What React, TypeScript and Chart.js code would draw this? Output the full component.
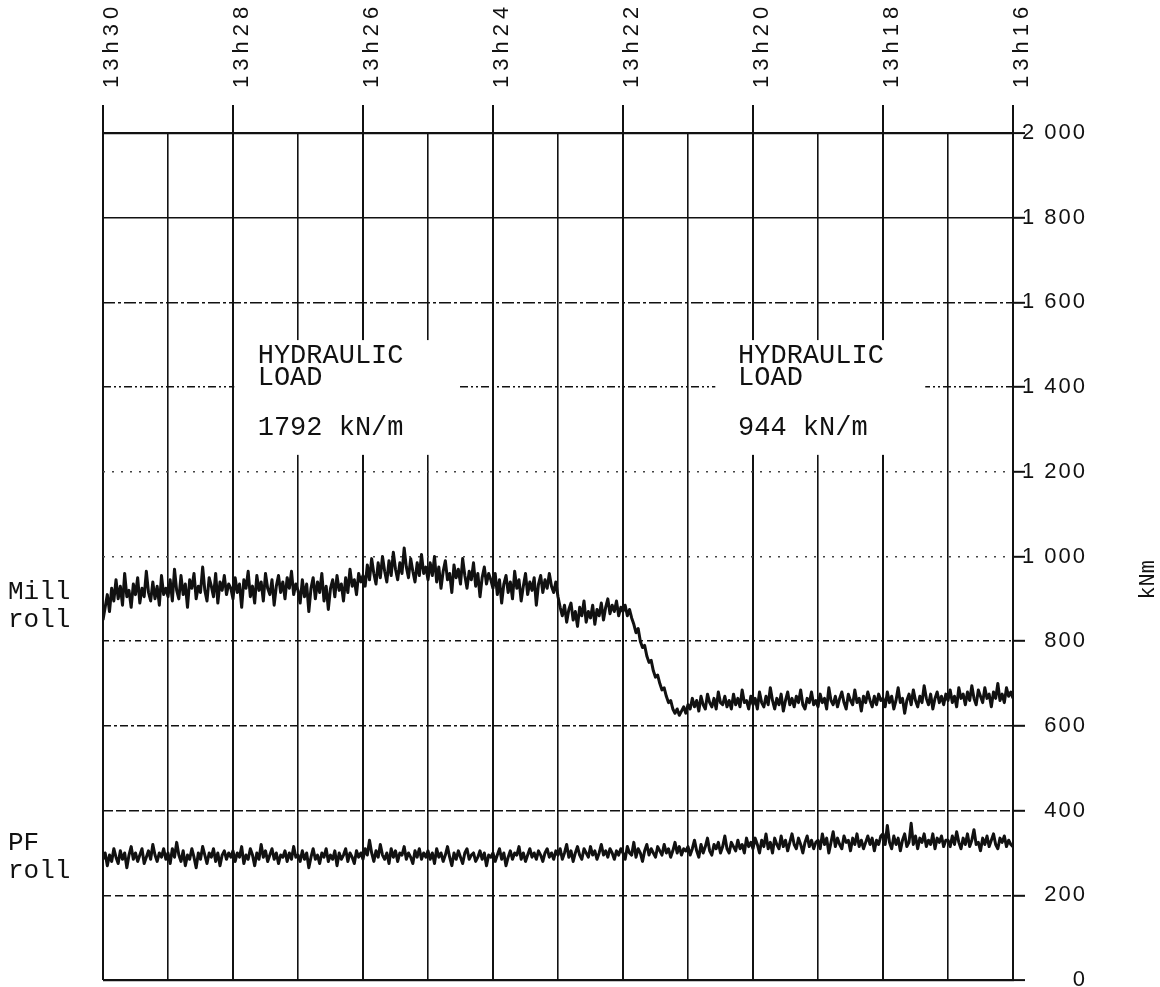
import React, { useEffect, useRef } from "react";
import { Chart, registerables } from "chart.js";

Chart.register(...registerables);

// ---- time axis (minutes past 13h00, chart runs from 13h30 on the left to 13h16 on the right)
const X_MIN_MINUTE = 16;
const X_MAX_MINUTE = 30;
const X_MAJOR_MINUTES = [30, 28, 26, 24, 22, 20, 18, 16];
const X_TICK_LABELS = ["13h30", "13h28", "13h26", "13h24", "13h22", "13h20", "13h18", "13h16"];

// ---- value axis (kNm)
const Y_TICK_VALUES = [0, 200, 400, 600, 800, 1000, 1200, 1400, 1600, 1800, 2000];
const Y_TICK_LABELS = ["0", "200", "400", "600", "800", "1 000", "1 200", "1 400", "1 600", "1 800", "2 000"];
const Y_UNIT = "kNm";

// ---- recorder samples: one sample every 2 s starting at 13h30
const START_MINUTE = 30;
const SAMPLES_PER_MINUTE = 30;

const MILL_ROLL = [
  // 13h30 -> 13h29
  850, 880, 910, 870, 925, 895, 945, 900, 930, 885, 960, 905, 920, 880, 935, 910, 950, 890, 925, 905, 965, 915, 895, 940, 900, 930, 885, 955, 910, 925,
  // 13h29 -> 13h28
  905, 945, 895, 970, 920, 900, 955, 910, 935, 880, 945, 925, 960, 900, 930, 915, 975, 920, 895, 950, 930, 905, 960, 890, 940, 920, 955, 910, 935, 925,
  // 13h28 -> 13h27
  900, 950, 915, 935, 880, 945, 925, 965, 905, 930, 890, 955, 920, 940, 895, 960, 925, 910, 945, 885, 930, 955, 915, 940, 900, 950, 925, 965, 910, 935,
  // 13h27 -> 13h26
  920, 890, 945, 905, 935, 870, 925, 950, 900, 940, 915, 960, 895, 930, 875, 925, 945, 905, 955, 920, 935, 895, 950, 915, 970, 930, 945, 910, 960, 940,
  // 13h26 -> 13h25
  955, 930, 980, 945, 995, 960, 935, 985, 950, 1000, 965, 940, 990, 955, 1010, 970, 945, 985, 960, 1020, 975, 950, 995, 965, 940, 985, 955, 1005, 960, 975,
  // 13h25 -> 13h24
  945, 985, 955, 1000, 940, 975, 925, 965, 990, 945, 960, 915, 980, 950, 970, 935, 995, 955, 925, 965, 945, 985, 930, 960, 905, 950, 975, 935, 960, 945,
  // 13h24 -> 13h23
  925, 960, 910, 945, 890, 935, 955, 915, 940, 900, 965, 925, 945, 895, 930, 960, 910, 940, 920, 950, 885, 935, 955, 915, 945, 925, 960, 930, 915, 940,
  // 13h23 -> 13h22
  905, 880, 860, 885, 845, 875, 890, 850, 870, 835, 880, 860, 895, 845, 870, 855, 885, 840, 875, 860, 890, 850, 880, 900, 865, 885, 870, 895, 860, 880,
  // 13h22 -> 13h21
  870, 885, 860, 875, 855, 840, 820, 830, 800, 785, 790, 765, 750, 755, 730, 715, 720, 700, 685, 690, 670, 655, 660, 640, 630, 640, 625, 635, 645, 630,
  // 13h21 -> 13h20
  650, 640, 665, 645, 660, 635, 670, 650, 640, 675, 655, 645, 665, 640, 680, 655, 650, 670, 645, 660, 640, 675, 650, 665, 645, 685, 655, 660, 640, 670,
  // 13h20 -> 13h19
  650, 665, 640, 680, 655, 645, 670, 650, 690, 660, 640, 665, 650, 675, 635, 660, 680, 650, 665, 645, 670, 655, 685, 650, 640, 665, 655, 680, 650, 660,
  // 13h19 -> 13h18
  645, 675, 655, 665, 640, 690, 660, 650, 670, 645, 665, 680, 655, 640, 675, 660, 650, 685, 655, 665, 635, 670, 655, 680, 660, 645, 670, 650, 675, 660,
  // 13h18 -> 13h17
  665, 645, 680, 655, 670, 640, 660, 690, 655, 665, 630, 660, 675, 650, 685, 660, 645, 670, 655, 695, 665, 650, 675, 640, 665, 680, 655, 670, 650, 675,
  // 13h17 -> 13h16
  660, 685, 655, 670, 645, 690, 665, 675, 650, 680, 660, 695, 665, 650, 685, 670, 655, 690, 665, 675, 645, 680, 665, 700, 660, 675, 655, 690, 670, 680,
  665,
];

const PF_ROLL = [
  // 13h30 -> 13h29
  285, 300, 270, 295, 280, 310, 290, 275, 305, 285, 300, 265, 295, 315, 285, 300, 280, 295, 310, 275, 290, 305, 285, 320, 295, 280, 300, 290, 310, 285,
  // 13h29 -> 13h28
  300, 275, 310, 290, 325, 295, 280, 305, 270, 295, 285, 310, 290, 265, 300, 285, 315, 295, 275, 300, 290, 310, 280, 300, 270, 295, 305, 285, 300, 290,
  // 13h28 -> 13h27
  305, 280, 300, 290, 315, 275, 295, 285, 310, 295, 270, 300, 285, 320, 290, 305, 280, 295, 310, 285, 300, 275, 295, 290, 305, 280, 300, 285, 315, 290,
  // 13h27 -> 13h26
  295, 280, 305, 285, 300, 265, 290, 310, 285, 295, 275, 300, 290, 310, 280, 295, 285, 305, 270, 300, 285, 295, 310, 280, 300, 290, 275, 305, 290, 300,
  // 13h26 -> 13h25
  285, 310, 295, 330, 300, 280, 305, 290, 320, 295, 285, 300, 275, 310, 290, 305, 280, 300, 295, 315, 285, 300, 290, 275, 305, 290, 310, 285, 300, 290,
  // 13h25 -> 13h24
  305, 285, 300, 275, 310, 290, 300, 280, 295, 315, 290, 270, 300, 285, 305, 290, 275, 300, 310, 285, 295, 300, 280, 290, 305, 285, 300, 270, 295, 290,
  // 13h24 -> 13h23
  300, 280, 295, 310, 285, 300, 270, 290, 305, 285, 300, 295, 315, 285, 300, 280, 295, 310, 290, 300, 285, 305, 295, 280, 300, 310, 290, 300, 285, 305,
  // 13h23 -> 13h22
  295, 310, 285, 300, 320, 290, 305, 280, 300, 315, 295, 285, 310, 300, 290, 315, 295, 305, 285, 300, 320, 295, 305, 290, 310, 300, 285, 305, 295, 310,
  // 13h22 -> 13h21
  300, 285, 315, 300, 295, 325, 290, 310, 300, 280, 305, 320, 295, 310, 300, 290, 315, 305, 295, 320, 300, 310, 290, 305, 325, 300, 315, 295, 310, 305,
  // 13h21 -> 13h20
  315, 295, 310, 330, 305, 290, 320, 300, 315, 335, 305, 295, 320, 310, 325, 300, 315, 340, 310, 300, 325, 315, 305, 330, 310, 320, 300, 335, 315, 325,
  // 13h20 -> 13h19
  310, 335, 320, 300, 330, 315, 345, 310, 325, 300, 335, 320, 310, 340, 315, 330, 305, 325, 345, 320, 310, 335, 320, 300, 325, 340, 315, 330, 310, 325,
  // 13h19 -> 13h18
  330, 310, 345, 320, 335, 300, 325, 350, 315, 335, 320, 310, 340, 325, 330, 305, 335, 320, 345, 315, 330, 310, 325, 340, 320, 335, 305, 330, 320, 340,
  // 13h18 -> 13h17
  345, 320, 365, 325, 310, 340, 320, 335, 305, 330, 345, 315, 325, 370, 320, 340, 310, 335, 325, 345, 315, 330, 320, 345, 310, 335, 325, 340, 315, 330,
  // 13h17 -> 13h16
  330, 315, 340, 320, 350, 325, 310, 335, 320, 345, 315, 330, 355, 320, 325, 305, 335, 320, 340, 315, 330, 345, 320, 310, 335, 325, 340, 315, 330, 320,
  315,
];

// ---- series names written at the left of each trace (value at which they sit)
const SERIES_LABELS = [
  { lines: ["Mill", "roll"], value: 885 },
  { lines: ["PF", "roll"], value: 293 },
];

// ---- annotations (minute / value of their first text line)
const ANNOTATIONS = [
  { lines: ["HYDRAULIC", "LOAD", "", "1792 kN/m"], minute: 27.62, value: 1473, boxFrom: 27.98, boxTo: 24.55 },
  { lines: ["HYDRAULIC", "LOAD", "", "944 kN/m"], minute: 20.23, value: 1473, boxFrom: 20.58, boxTo: 17.35 },
];
const ANNOT_BOX_TOP = 1511;
const ANNOT_BOX_BOTTOM = 1240;
const UNIT_VALUE = 945;

const toPoints = (values: number[]) =>
  values.map((v, i) => ({ x: START_MINUTE - i / SAMPLES_PER_MINUTE, y: v }));

const Y_DASH: Record<number, number[]> = {
  2000: [],
  1800: [],
  1600: [12, 3, 3, 3],
  1400: [8, 3, 2, 3, 2, 3],
  1200: [2, 7],
  1000: [2, 7],
  800: [6, 4, 2, 4],
  600: [8, 3, 3, 3],
  400: [10, 3],
  200: [8, 4],
  0: [],
};

const MONO = "'Liberation Mono', 'DejaVu Sans Mono', monospace";
const SANS = "'Liberation Sans', Arial, sans-serif";

const decorPlugin = {
  id: "decor",
  beforeDraw(chart: any) {
    chart.ctx.letterSpacing = "5px";
  },
  beforeDatasetsDraw(chart: any) {
    const { ctx, scales } = chart;
    const x = scales.x;
    const y = scales.y;
    ctx.save();
    ctx.fillStyle = "#ffffff";
    const top = y.getPixelForValue(ANNOT_BOX_TOP);
    const bottom = y.getPixelForValue(ANNOT_BOX_BOTTOM);
    for (const a of ANNOTATIONS) {
      const p1 = x.getPixelForValue(a.boxFrom);
      const p2 = x.getPixelForValue(a.boxTo);
      ctx.fillRect(Math.min(p1, p2), top, Math.abs(p2 - p1), bottom - top);
    }
    ctx.restore();
    ctx.letterSpacing = "2px";
  },
  afterDraw(chart: any) {
    const { ctx, scales } = chart;
    const x = scales.x;
    const y = scales.y;
    ctx.save();
    ctx.letterSpacing = "0px";
    ctx.fillStyle = "#111";
    ctx.textBaseline = "middle";
    ctx.textAlign = "left";
    ctx.font = `27px ${MONO}`;
    for (const a of ANNOTATIONS) {
      const px = x.getPixelForValue(a.minute);
      const py = y.getPixelForValue(a.value);
      let off = 0;
      a.lines.forEach((line: string) => {
        if (line) ctx.fillText(line, px, py + off);
        off += line ? 22 : 28;
      });
    }
    ctx.font = `26px ${MONO}`;
    for (const s of SERIES_LABELS) {
      const py = y.getPixelForValue(s.value);
      ctx.fillText(s.lines[0], 8, py - 13);
      ctx.fillText(s.lines[1], 8, py + 15);
    }
    // unit label
    ctx.font = `22px ${MONO}`;
    ctx.translate(1148, y.getPixelForValue(UNIT_VALUE));
    ctx.rotate(-Math.PI / 2);
    ctx.textAlign = "center";
    ctx.fillText(Y_UNIT, 0, 0);
    ctx.restore();
  },
};

export default function App() {
  const ref = useRef<HTMLCanvasElement | null>(null);
  useEffect(() => {
    document.body.style.margin = "0";
    const canvas = ref.current;
    if (!canvas) return;
    const chart = new Chart(canvas, {
      type: "line",
      data: {
        datasets: [
          {
            label: "Mill roll",
            data: toPoints(MILL_ROLL),
            borderColor: "#111",
            borderWidth: 3,
            pointRadius: 0,
            tension: 0,
            borderJoinStyle: "round",
          },
          {
            label: "PF roll",
            data: toPoints(PF_ROLL),
            borderColor: "#111",
            borderWidth: 3,
            pointRadius: 0,
            tension: 0,
            borderJoinStyle: "round",
          },
        ],
      },
      options: {
        responsive: false,
        animation: false,
        layout: { padding: { left: 103, right: 73, top: 0, bottom: 7 } },
        plugins: {
          legend: { display: false },
          tooltip: { enabled: false },
        },
        scales: {
          x: {
            type: "linear",
            position: "top",
            reverse: true,
            min: X_MIN_MINUTE,
            max: X_MAX_MINUTE,
            afterFit: (s: any) => {
              s.height = 133;
              s.paddingLeft = 0;
              s.paddingRight = 0;
            },
            ticks: {
              stepSize: 1,
              autoSkip: false,
              minRotation: 90,
              maxRotation: 90,
              padding: 17,
              labelOffset: 35,
              color: "#111",
              font: { family: SANS, size: 22 },
              callback: (v: any) => {
                const idx = X_MAJOR_MINUTES.indexOf(Number(v));
                return idx >= 0 ? X_TICK_LABELS[idx] : "";
              },
            },
            grid: {
              color: "#111",
              lineWidth: (c: any) => (c.tick && X_MAJOR_MINUTES.includes(c.tick.value) ? 2 : 1.6),
              tickLength: 28,
              tickWidth: 2,
              tickColor: (c: any) =>
                c.tick && X_MAJOR_MINUTES.includes(c.tick.value) ? "#111" : "rgba(0,0,0,0)",
            },
            border: { display: true, color: "#111", width: 2 },
          },
          y: {
            type: "linear",
            position: "right",
            min: 0,
            max: 2000,
            afterFit: (s: any) => {
              s.width = 74;
              s.paddingTop = 0;
              s.paddingBottom = 0;
            },
            afterBuildTicks: (s: any) => {
              s.ticks = Y_TICK_VALUES.map((v) => ({ value: v }));
            },
            ticks: {
              z: 1,
              padding: 7,
              crossAlign: "far",
              color: "#111",
              font: { family: SANS, size: 22 },
              callback: (v: any) => {
                const idx = Y_TICK_VALUES.indexOf(Number(v));
                return idx >= 0 ? Y_TICK_LABELS[idx] : "";
              },
            },
            grid: {
              color: (c: any) => (c.tick && (c.tick.value === 1200 || c.tick.value === 1000) ? "#444" : "#111"),
              lineWidth: (c: any) => (c.tick && (c.tick.value === 2000 || c.tick.value === 0) ? 2.2 : 1.6),
              tickLength: 12,
              tickWidth: 2,
              tickColor: "#111",
              tickBorderDash: [],
            },
            border: {
              display: true,
              color: "#111",
              width: 2,
              dash: (c: any) => (c.tick ? Y_DASH[c.tick.value] || [] : []),
            },
          },
        },
      },
      plugins: [decorPlugin],
    } as any);
    return () => chart.destroy();
  }, []);
  return (
    <div style={{ width: 1160, height: 987 }}>
      <canvas ref={ref} width={1160} height={987} />
    </div>
  );
}
